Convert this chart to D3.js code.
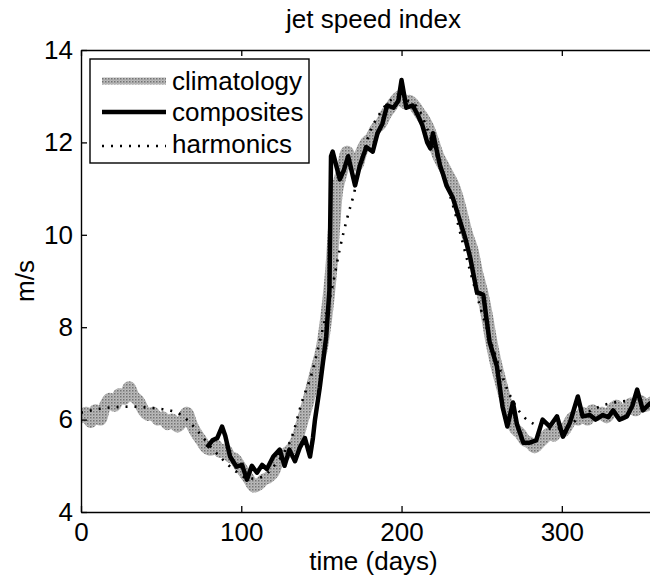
<!DOCTYPE html>
<html>
<head>
<meta charset="utf-8">
<title>jet speed index</title>
<script src="https://d3js.org/d3.v7.min.js"></script>
<style>
  body { margin: 0; background: #fff; }
  svg { font-family: "Liberation Sans", Arial, sans-serif; }
</style>
</head>
<body>
<div id="chart"></div>
<script>
// climatology (day, m/s)
var climDays = [0,3,6,9,12,15,18,21,24,27,30,33,36,39,42,45,48,51,54,57,60,63,66,69,72,75,78,81,84,87,90,93,96,99,102,105,108,111,114,117,120,123,126,129,132,135,138,141,144,147,150,153,156,158,160,163,166,169,172,175,178,181,184,187,190,193,196,199,202,205,208,211,214,217,220,223,226,229,232,235,238,241,244,247,250,253,256,259,262,265,268,271,274,277,280,283,286,289,292,295,298,301,304,307,310,313,316,319,322,325,328,331,334,337,340,343,346,349,352,355,358,361,365];
var climVals = [6.05,6.15,5.95,6.2,6.0,6.3,6.45,6.3,6.55,6.45,6.7,6.5,6.4,6.2,6.1,6.15,6.0,6.05,5.9,6.0,5.85,5.95,6.15,5.9,5.7,5.55,5.4,5.35,5.45,5.3,5.35,5.2,5.15,5.0,4.85,4.7,4.55,4.6,4.7,4.75,4.85,5.1,5.2,5.3,5.4,5.6,5.95,6.3,6.7,7.1,7.5,8.2,9.2,10.2,11.0,11.4,11.8,11.6,11.5,11.8,12.0,12.1,12.3,12.4,12.6,12.75,12.9,13.0,12.85,12.9,12.8,12.65,12.5,12.3,12.0,11.7,11.5,11.3,11.1,10.8,10.4,10.0,9.7,9.2,8.8,8.3,7.7,7.2,6.8,6.4,6.0,5.8,5.7,5.55,5.5,5.4,5.5,5.6,5.7,5.65,5.8,5.75,5.9,6.05,6.0,6.15,6.0,6.2,6.1,6.15,6.05,6.2,6.3,6.1,6.2,6.35,6.2,6.4,6.3,6.35,6.4,6.3,6.35];

// composites
var compDays = [78.6,82,85,88,90,93,97,100.5,103.5,106.6,109.8,113,116,120,124,127,130,133.5,136.6,139.7,142.9,144.7,146,149,153,155,156,157,161.5,164,166.7,171,174,178,182,185,188,191,195,198,200,203,207,210,213,216,218,219.6,224,226,228,232,236,240,243,247,251,255,259.5,263,266,269.5,272,276,280,284,288,292.5,297,300.7,305,310,313,317.5,321,325.6,329,332,336,340.6,344,347,350.6,355,360,365];
var compVals = [5.4,5.55,5.6,5.85,5.65,5.2,4.98,5.02,4.7,5.0,4.85,5.02,4.93,5.2,5.35,5.0,5.35,5.1,5.4,5.6,5.2,5.6,6.0,6.7,7.8,8.8,11.7,11.8,11.2,11.4,11.7,11.07,11.5,11.9,11.8,12.2,12.4,12.8,12.75,12.9,13.35,12.75,12.8,12.6,12.37,12.0,11.87,12.2,11.5,11.3,11.07,10.8,10.35,9.9,9.48,8.76,8.7,7.67,7.15,6.28,5.85,6.37,5.9,5.5,5.5,5.55,6.0,5.85,6.07,5.63,5.93,6.5,6.07,6.1,6.0,6.1,6.05,6.2,6.0,6.07,6.3,6.65,6.2,6.35,6.4,6.35];

// harmonics
var harmDays = [0,15,30,45,55,60,66,72,80,88,97,105,113,120,126,131,138,144,149,157,161.5,166,170,175,180,186,196,204,211,216,225,234,238,249,258,266,276,283,293,303,313,330,341,352,365];
var harmVals = [6.15,6.25,6.28,6.25,6.2,6.15,6.0,5.78,5.45,5.15,4.87,4.72,4.76,4.98,5.25,5.57,6.4,7.0,7.7,8.9,9.7,10.35,10.85,11.6,12.2,12.6,12.95,12.9,12.7,12.3,11.4,10.4,9.85,8.45,7.45,6.65,6.07,5.9,5.8,5.85,6.1,6.35,6.4,6.35,6.3];

var xTicks = [0, 100, 200, 300];
var yTicks = [4, 6, 8, 10, 12, 14];
var legendNames = ["climatology", "composites", "harmonics"];

var W = 650, H = 577;
var mLeft = 81, mTop = 50, mRight = 666, mBottom = 512;
var fs = 26;

var svg = d3.select("#chart").append("svg")
  .attr("width", W).attr("height", H);

var x = d3.scaleLinear().domain([0, 365]).range([mLeft, mRight]);
var y = d3.scaleLinear().domain([4, 14]).range([mBottom, mTop]);

// halftone-ish pattern for the climatology band
var defs = svg.append("defs");
var pat = defs.append("pattern").attr("id", "dots")
  .attr("width", 3).attr("height", 3).attr("patternUnits", "userSpaceOnUse");
pat.append("rect").attr("width", 3).attr("height", 3).attr("fill", "#bcbcbc");
pat.append("rect").attr("x", 0).attr("y", 0).attr("width", 1.5).attr("height", 1.5).attr("fill", "#737373");
pat.append("rect").attr("x", 1.5).attr("y", 1.5).attr("width", 1).attr("height", 1).attr("fill", "#919191");

defs.append("clipPath").attr("id", "plotclip")
  .append("rect").attr("x", mLeft).attr("y", mTop).attr("width", mRight - mLeft).attr("height", mBottom - mTop);

function pts(ds, vs) { return ds.map(function (d, i) { return [d, vs[i]]; }); }

var straight = d3.line().x(function (d) { return x(d[0]); }).y(function (d) { return y(d[1]); });
var wobbly = d3.line().curve(d3.curveCatmullRom)
  .x(function (d) { return x(d[0]); }).y(function (d) { return y(d[1]); });
var smooth = d3.line().curve(d3.curveMonotoneX)
  .x(function (d) { return x(d[0]); }).y(function (d) { return y(d[1]); });

var plot = svg.append("g").attr("clip-path", "url(#plotclip)");

plot.append("path")
  .attr("d", wobbly(pts(climDays, climVals)))
  .attr("fill", "none")
  .attr("stroke", "url(#dots)")
  .attr("stroke-width", 12)
  .attr("stroke-linejoin", "round")
  .attr("stroke-linecap", "round");

plot.append("path")
  .attr("d", smooth(pts(harmDays, harmVals)))
  .attr("fill", "none")
  .attr("stroke", "#000")
  .attr("stroke-width", 2.6)
  .attr("stroke-dasharray", "2,7");

plot.append("path")
  .attr("d", straight(pts(compDays, compVals)))
  .attr("fill", "none")
  .attr("stroke", "#000")
  .attr("stroke-width", 4.5)
  .attr("stroke-linejoin", "round");

// axes (ticks point inward)
svg.append("g").attr("transform", "translate(0," + mBottom + ")")
  .call(d3.axisBottom(x).tickValues(xTicks).tickSizeInner(-6).tickSizeOuter(0).tickPadding(11));
svg.append("g").attr("transform", "translate(0," + mTop + ")")
  .call(d3.axisTop(x).tickValues(xTicks).tickSizeInner(-6).tickSizeOuter(0).tickFormat(""));
svg.append("g").attr("transform", "translate(" + mLeft + ",0)")
  .call(d3.axisLeft(y).tickValues(yTicks).tickSizeInner(-6).tickSizeOuter(0).tickPadding(8));

svg.selectAll(".domain").attr("stroke", "#000").attr("stroke-width", 1.4);
svg.selectAll(".tick line").attr("stroke", "#000").attr("stroke-width", 1.3);
svg.selectAll(".tick text").attr("font-size", fs).attr("fill", "#000")
  .attr("font-family", "'Liberation Sans', Arial, sans-serif");

// title and axis labels
svg.append("text").attr("x", (mLeft + mRight) / 2).attr("y", 28)
  .attr("text-anchor", "middle").attr("font-size", fs).text("jet speed index");
svg.append("text").attr("x", (mLeft + mRight) / 2).attr("y", 570)
  .attr("text-anchor", "middle").attr("font-size", fs).text("time (days)");
svg.append("text").attr("transform", "translate(34," + ((mTop + mBottom) / 2) + ") rotate(-90)")
  .attr("text-anchor", "middle").attr("font-size", fs).text("m/s");

// legend
var lg = svg.append("g");
lg.append("rect").attr("x", 90).attr("y", 59).attr("width", 219).attr("height", 104)
  .attr("fill", "#fff").attr("stroke", "#000").attr("stroke-width", 1.4);
var baselines = [90, 121, 153];
var styles = [
  { stroke: "url(#dots)", width: 7, dash: null },
  { stroke: "#000", width: 4.5, dash: null },
  { stroke: "#000", width: 2.6, dash: "2,7" }
];
legendNames.forEach(function (name, i) {
  var ly = baselines[i] - (i == 2 ? 7 : 9);
  var l = lg.append("line").attr("x1", 102).attr("x2", 166).attr("y1", ly).attr("y2", ly)
    .attr("stroke", styles[i].stroke).attr("stroke-width", styles[i].width);
  if (styles[i].dash) l.attr("stroke-dasharray", styles[i].dash);
  lg.append("text").attr("x", 172).attr("y", baselines[i]).attr("font-size", fs).text(name);
});
</script>
</body>
</html>
